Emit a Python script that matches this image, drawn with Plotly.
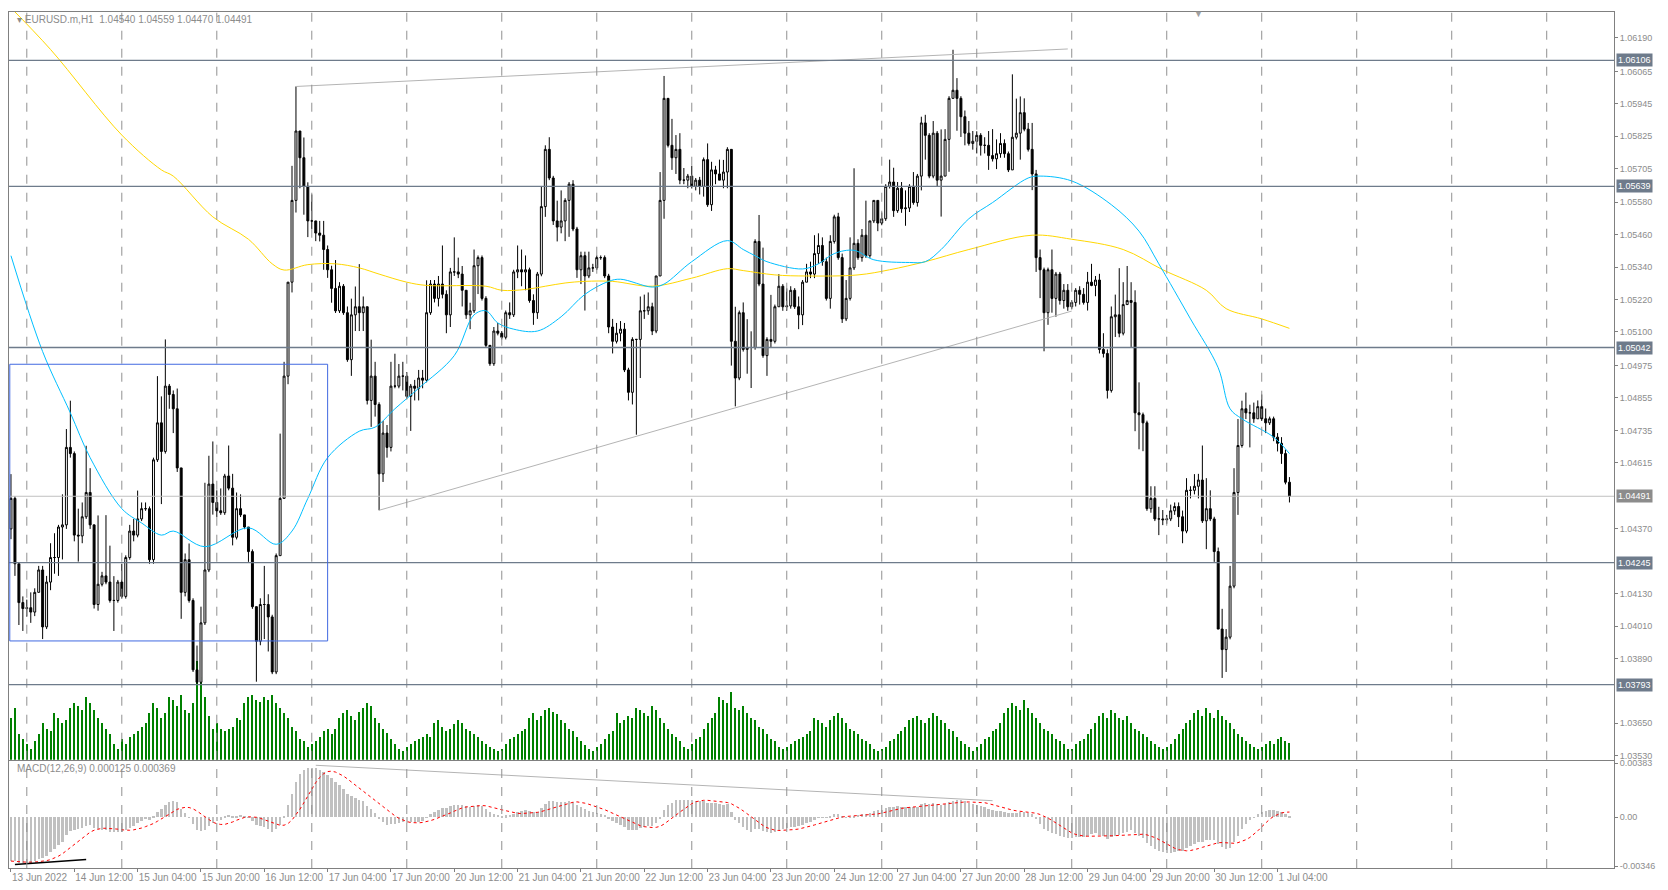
import pandas as pd
import numpy as np
from plotly import graph_objects as go

# EURUSD.m H1, 13 Jun 2022 20:00 .. 1 Jul 2022 07:00
first_open = 1.04370
close = [
    1.04483, 1.04241, 1.04097, 1.04075, 1.04078, 1.04062, 1.04135, 1.04218, 1.04007, 1.04173,
    1.04264, 1.04264, 1.04377, 1.04385, 1.04672, 1.04649, 1.04347, 1.04344, 1.04415, 1.04505,
    1.04385, 1.04090, 1.04165, 1.04196, 1.04173, 1.04105, 1.04105, 1.04173, 1.04120, 1.04264,
    1.04362, 1.04347, 1.04407, 1.04445, 1.04445, 1.04256, 1.04626, 1.04763, 1.04657, 1.04899,
    1.04868, 1.04815, 1.04596, 1.04135, 1.04256, 1.04105, 1.03848, 1.03802, 1.04022, 1.04218,
    1.04536, 1.04468, 1.04437, 1.04430, 1.04566, 1.04521, 1.04339, 1.04445, 1.04422, 1.04377,
    1.04286, 1.04082, 1.03954, 1.04090, 1.04090, 1.04044, 1.03840, 1.04271, 1.04483, 1.04936,
    1.05284, 1.05587, 1.05844, 1.05745, 1.05639, 1.05511, 1.05511, 1.05466, 1.05458, 1.05405,
    1.05330, 1.05261, 1.05178, 1.05269, 1.05171, 1.04997, 1.05163, 1.05193, 1.05171, 1.05193,
    1.04846, 1.04936, 1.04831, 1.04574, 1.04725, 1.04672, 1.04899, 1.04899, 1.04936, 1.04936,
    1.04861, 1.04899, 1.04891, 1.04929, 1.04921, 1.05171, 1.05277, 1.05224, 1.05277, 1.05239,
    1.05163, 1.05322, 1.05322, 1.05314, 1.05254, 1.05163, 1.05178, 1.05345, 1.05375, 1.05224,
    1.05050, 1.04982, 1.05103, 1.05095, 1.05080, 1.05171, 1.05163, 1.05322, 1.05330, 1.05322,
    1.05330, 1.05216, 1.05171, 1.05314, 1.05564, 1.05776, 1.05670, 1.05511, 1.05488, 1.05511,
    1.05587, 1.05647, 1.05481, 1.05330, 1.05382, 1.05307, 1.05337, 1.05337, 1.05375, 1.05375,
    1.05307, 1.05118, 1.05065, 1.05095, 1.05110, 1.04959, 1.04876, 1.05072, 1.05072, 1.05178,
    1.05178, 1.05193, 1.05103, 1.05307, 1.05587, 1.05965, 1.05791, 1.05745, 1.05776, 1.05662,
    1.05662, 1.05677, 1.05639, 1.05662, 1.05639, 1.05738, 1.05571, 1.05700, 1.05685, 1.05662,
    1.05692, 1.05776, 1.05065, 1.04929, 1.05171, 1.05035, 1.05042, 1.05042, 1.05435, 1.05277,
    1.05012, 1.05072, 1.05065, 1.05193, 1.05269, 1.05193, 1.05196, 1.05254, 1.05193, 1.05163,
    1.05284, 1.05322, 1.05314, 1.05390, 1.05420, 1.05360, 1.05224, 1.05435, 1.05526, 1.05375,
    1.05148, 1.05224, 1.05337, 1.05428, 1.05375, 1.05458, 1.05382, 1.05511, 1.05587, 1.05503,
    1.05519, 1.05639, 1.05655, 1.05549, 1.05632, 1.05556, 1.05559, 1.05639, 1.05579, 1.05677,
    1.05874, 1.05828, 1.05677, 1.05836, 1.05662, 1.05677, 1.05813, 1.05965, 1.05995, 1.05965,
    1.05897, 1.05836, 1.05798, 1.05806, 1.05828, 1.05791, 1.05791, 1.05753, 1.05741, 1.05760,
    1.05798, 1.05760, 1.05700, 1.05821, 1.05836, 1.05912, 1.05851, 1.05776, 1.05685, 1.05375,
    1.05330, 1.05171, 1.05330, 1.05224, 1.05314, 1.05216, 1.05254, 1.05193, 1.05209, 1.05254,
    1.05239, 1.05209, 1.05284, 1.05272, 1.05292, 1.05035, 1.05020, 1.04883, 1.05156, 1.05163,
    1.05095, 1.05201, 1.05216, 1.05209, 1.04800, 1.04793, 1.04763, 1.04445, 1.04483, 1.04407,
    1.04407, 1.04404, 1.04407, 1.04437, 1.04453, 1.04415, 1.04362, 1.04513, 1.04513, 1.04528,
    1.04551, 1.04400, 1.04445, 1.04407, 1.04286, 1.03999, 1.03923, 1.03969, 1.04158, 1.04505,
    1.04679, 1.04815, 1.04800, 1.04800, 1.04778, 1.04823, 1.04778, 1.04763, 1.04778, 1.04710,
    1.04687, 1.04649, 1.04543, 1.04491,
]
# upper / lower shadow lengths in points (0.00001)
wick_up = [
    90, 8, 0, 23, 30, 57, 15, 15, 15, 23, 53, 90, 8, 113, 68, 173, 8, 98, 53, 173,
    90, 0, 255, 15, 225, 135, 90, 8, 68, 8, 23, 45, 105, 23, 23, 8, 8, 173, 98, 173,
    8, 15, 75, 0, 23, 60, 8, 90, 60, 323, 105, 158, 45, 83, 8, 113, 53, 60, 53, 0,
    0, 8, 0, 23, 143, 38, 8, 8, 240, 53, 0, 128, 165, 0, 75, 15, 98, 0, 45, 53,
    15, 15, 105, 15, 8, 23, 60, 75, 158, 38, 0, 135, 53, 8, 45, 30, 90, 120, 45, 53,
    15, 8, 23, 30, 30, 120, 15, 15, 30, 143, 15, 15, 128, 53, 30, 0, 30, 60, 8, 8,
    8, 0, 15, 30, 8, 8, 38, 8, 90, 75, 53, 8, 23, 8, 75, 15, 45, 8, 75, 113,
    8, 8, 15, 8, 15, 15, 60, 15, 8, 8, 8, 8, 30, 38, 30, 23, 8, 8, 0, 53,
    60, 53, 15, 0, 105, 83, 0, 98, 53, 60, 45, 8, 38, 8, 12, 8, 60, 30, 15, 53,
    45, 8, 0, 128, 8, 38, 105, 60, 8, 98, 135, 8, 165, 8, 45, 8, 65, 15, 8, 38,
    8, 30, 38, 68, 45, 30, 15, 23, 8, 15, 15, 68, 113, 278, 15, 23, 128, 0, 0, 0,
    23, 8, 83, 53, 23, 23, 65, 8, 53, 8, 23, 30, 8, 45, 8, 173, 38, 8, 150, 45,
    8, 23, 45, 38, 15, 8, 30, 53, 98, 53, 38, 15, 8, 233, 128, 60, 53, 23, 98, 15,
    30, 8, 8, 75, 8, 8, 23, 23, 8, 8, 15, 23, 38, 68, 15, 23, 60, 15, 38, 75,
    173, 83, 128, 68, 45, 113, 8, 8, 45, 45, 45, 33, 15, 23, 15, 15, 23, 45, 15, 45,
    23, 128, 113, 68, 8, 15, 75, 30, 75, 90, 98, 30, 60, 30, 38, 23, 45, 38, 8, 8,
    15, 23, 15, 19,
]
wick_dn = [
    38, 45, 83, 83, 30, 40, 15, 0, 45, 8, 30, 60, 68, 120, 15, 15, 23, 95, 27, 8,
    15, 15, 23, 8, 8, 8, 113, 8, 8, 8, 8, 23, 8, 8, 8, 15, 15, 8, 195, 8,
    53, 90, 15, 98, 15, 8, 8, 8, 8, 8, 8, 45, 23, 8, 8, 8, 30, 8, 8, 8,
    38, 8, 150, 15, 128, 128, 8, 8, 0, 0, 30, 38, 45, 113, 105, 60, 30, 30, 23, 75,
    30, 53, 8, 8, 8, 8, 60, 60, 68, 68, 15, 98, 45, 135, 30, 38, 15, 8, 8, 53,
    8, 128, 45, 45, 30, 8, 8, 15, 30, 15, 68, 45, 15, 15, 60, 15, 53, 8, 105, 8,
    8, 8, 8, 8, 8, 8, 15, 8, 23, 53, 68, 8, 45, 23, 8, 38, 8, 15, 53, 23,
    75, 135, 8, 30, 53, 128, 8, 15, 8, 8, 8, 23, 45, 8, 30, 8, 30, 45, 353, 143,
    30, 15, 15, 8, 0, 68, 8, 45, 60, 15, 15, 30, 8, 15, 30, 38, 8, 23, 38, 0,
    30, 60, 90, 105, 8, 8, 90, 150, 8, 8, 8, 75, 23, 8, 0, 15, 15, 10, 8, 53,
    38, 0, 15, 15, 38, 15, 8, 38, 8, 8, 15, 8, 8, 8, 8, 15, 8, 8, 8, 30,
    8, 8, 8, 23, 8, 15, 63, 15, 8, 15, 53, 90, 8, 8, 23, 135, 0, 120, 0, 120,
    75, 45, 8, 23, 45, 38, 30, 53, 10, 38, 15, 15, 8, 0, 8, 98, 8, 8, 60, 53,
    105, 143, 45, 53, 68, 15, 30, 15, 8, 15, 38, 8, 30, 3, 40, 15, 15, 30, 8, 75,
    15, 8, 0, 165, 68, 128, 105, 8, 15, 8, 60, 20, 15, 8, 15, 38, 45, 8, 30, 15,
    45, 8, 105, 8, 38, 0, 105, 83, 8, 8, 83, 8, 23, 128, 15, 0, 8, 38, 8, 15,
    30, 38, 8, 23,
]
# tick volume per bar
volume = [
    40, 50, 25, 20,
    15, 10, 18, 25, 35, 30, 28, 45, 40, 35, 38, 50, 55, 52, 48, 60, 55, 48, 40, 35, 30, 25, 15, 10,
    20, 15, 22, 25, 28, 32, 35, 45, 55, 50, 40, 45, 60, 58, 52, 62, 48, 45, 55, 95, 80, 60, 42, 30,
    35, 30, 28, 30, 32, 40, 38, 55, 60, 62, 58, 56, 60, 58, 62, 55, 50, 45, 40, 32, 28, 20, 18, 12,
    15, 18, 22, 28, 30, 25, 30, 40, 45, 48, 42, 38, 46, 50, 55, 52, 40, 35, 30, 26, 20, 15, 10, 8,
    12, 15, 18, 20, 22, 25, 22, 35, 38, 32, 28, 30, 34, 38, 35, 30, 28, 25, 22, 18, 15, 12, 10, 8,
    10, 15, 20, 22, 25, 28, 30, 40, 45, 38, 42, 48, 50, 46, 44, 38, 35, 30, 28, 22, 18, 14, 10, 8,
    12, 15, 20, 25, 28, 45, 35, 38, 42, 40, 50, 48, 45, 42, 52, 48, 40, 35, 30, 25, 22, 18, 12, 10,
    15, 20, 22, 30, 35, 40, 45, 60, 58, 55, 65, 50, 48, 52, 45, 40, 38, 32, 30, 25, 20, 18, 12, 10,
    12, 15, 18, 20, 22, 25, 28, 40, 38, 35, 32, 38, 42, 45, 40, 35, 30, 28, 25, 20, 18, 15, 10, 8,
    10, 12, 18, 20, 25, 28, 32, 38, 40, 42, 38, 35, 40, 45, 42, 38, 35, 30, 28, 22, 18, 15, 12, 8,
    12, 15, 20, 22, 28, 30, 35, 45, 50, 55, 52, 48, 58, 50, 45, 40, 35, 30, 28, 25, 20, 18, 15, 10,
    10, 15, 18, 20, 25, 30, 35, 42, 45, 40, 48, 45, 40, 38, 42, 35, 30, 28, 25, 22, 18, 15, 12, 10,
    12, 15, 20, 25, 30, 35, 38, 45, 48, 42, 50, 45, 40, 48, 42, 38, 35, 30, 25, 22, 18, 15, 12, 10,
    12, 15, 18, 15, 20, 22, 18, 16,
]
# moving averages read at sample bars
ma_slow_bar = [0, 10, 28, 38, 41, 51, 60, 66, 69, 75, 82, 88, 93, 100, 105, 120, 124, 130, 135, 140,
               145, 152, 162, 172, 181, 185, 193, 201, 214, 222, 231, 242, 258, 268, 281, 291, 302,
               307, 316, 323]
ma_slow = [1.06300, 1.06146, 1.05829, 1.05700, 1.05677, 1.05526, 1.05443, 1.05352, 1.05329, 1.05349,
           1.05352, 1.05337, 1.05314, 1.05284, 1.05272, 1.05269, 1.05254, 1.05257, 1.05269, 1.05281,
           1.05287, 1.05287, 1.05269, 1.05299, 1.05334, 1.05327, 1.05311, 1.05307, 1.05311, 1.05330,
           1.05360, 1.05405, 1.05458, 1.05443, 1.05405, 1.05330, 1.05254, 1.05186, 1.05148, 1.05113]
ma_fast_bar = [0, 8, 15, 20, 28, 33, 38, 41, 49, 60, 67, 71, 75, 80, 88, 92, 97, 103, 112, 117, 120,
               123, 127, 133, 139, 145, 151, 154, 162, 165, 172, 181, 185, 188, 191, 200, 204, 208,
               213, 218, 227, 231, 235, 242, 248, 257, 260, 268, 278, 285, 290, 298, 305, 308, 311,
               319, 323]
ma_fast = [1.05382, 1.05027, 1.04800, 1.04634, 1.04445, 1.04392, 1.04347, 1.04362, 1.04304, 1.04374,
           1.04313, 1.04362, 1.04483, 1.04634, 1.04732, 1.04747, 1.04815, 1.04891, 1.05012, 1.05163,
           1.05178, 1.05133, 1.05110, 1.05103, 1.05156, 1.05239, 1.05287, 1.05295, 1.05266, 1.05277,
           1.05360, 1.05438, 1.05405, 1.05382, 1.05360, 1.05333, 1.05352, 1.05390, 1.05402, 1.05367,
           1.05357, 1.05360, 1.05405, 1.05519, 1.05579, 1.05670, 1.05677, 1.05659, 1.05571, 1.05473,
           1.05352, 1.05148, 1.04967, 1.04815, 1.04778, 1.04710, 1.04649]
levels = [1.06106, 1.05639, 1.05042, 1.04245, 1.03793]
last_price = 1.04491
price_ticks = [1.06190, 1.06065, 1.05945, 1.05825, 1.05705, 1.05580, 1.05460, 1.05340, 1.05220,
               1.05100, 1.04975, 1.04855, 1.04735, 1.04615, 1.04370, 1.04130, 1.04010,
               1.03890, 1.03650, 1.03530]
# drawn objects: (bar, price)
upper_trend = [(72, 1.06009), (267, 1.06148)]
lower_trend = [(93, 1.04439), (268, 1.05177)]
box = [(-0.3, 1.04980), (80, 1.03955)]
macd_trend_black = [(1, -0.00335), (19, -0.00300)]
macd_trend_gray = [(77, 0.00368), (248, 0.00117)]
ema12_start, ema26_start = 1.04550, 1.04880

n = len(close)
times = pd.date_range("2022-06-13 20:00", periods=n * 2, freq="h")
times = times[times.weekday < 5][:n]
idx = np.arange(n)
opn = [first_open] + close[:-1]
high = [max(o, c) + u * 1e-5 for o, c, u in zip(opn, close, wick_up)]
low = [min(o, c) - d * 1e-5 for o, c, d in zip(opn, close, wick_dn)]

# MACD(12,26,9), signal = SMA of main line like MT4
e12, e26, main = ema12_start, ema26_start, []
for c in close:
    e12 += (c - e12) * 2 / 13
    e26 += (c - e26) * 2 / 27
    main.append(e12 - e26)
signal = pd.Series(main).rolling(9, min_periods=1).mean()

GRID = "#909090"
AX = "#808080"
LEVEL = "#6e7b8b"
FONT = "Liberation Sans"
TXT = "#8c8c8c"

fig = go.Figure()
fig.add_trace(go.Bar(x=idx, y=volume, marker_color="#008000", marker_line_width=0,
                     width=0.28, yaxis="y"))
fig.add_trace(go.Scatter(x=ma_slow_bar, y=ma_slow, mode="lines", line=dict(color="#ffd700", width=1),
                         yaxis="y3", line_shape="spline"))
fig.add_trace(go.Scatter(x=ma_fast_bar, y=ma_fast, mode="lines", line=dict(color="#00bfff", width=1),
                         yaxis="y3", line_shape="spline"))
for seg in (upper_trend, lower_trend):
    fig.add_trace(go.Scatter(x=[p[0] for p in seg], y=[p[1] for p in seg], mode="lines",
                             line=dict(color="#b4b4b4", width=1), yaxis="y3"))
fig.add_trace(go.Candlestick(
    x=idx, open=opn, high=high, low=low, close=close, yaxis="y3", whiskerwidth=0,
    increasing=dict(line=dict(color="black", width=1), fillcolor="white"),
    decreasing=dict(line=dict(color="black", width=1), fillcolor="black")))
fig.add_trace(go.Bar(x=idx, y=main, marker_color="#c0c0c0", marker_line_width=0, width=0.6,
                     xaxis="x2", yaxis="y2"))
fig.add_trace(go.Scatter(x=idx, y=signal, mode="lines", line=dict(color="red", width=1, dash="dot"),
                         xaxis="x2", yaxis="y2"))
fig.add_trace(go.Scatter(x=[p[0] for p in macd_trend_black], y=[p[1] for p in macd_trend_black],
                         mode="lines", line=dict(color="black", width=1.5), xaxis="x2", yaxis="y2"))
fig.add_trace(go.Scatter(x=[p[0] for p in macd_trend_gray], y=[p[1] for p in macd_trend_gray],
                         mode="lines", line=dict(color="#b4b4b4", width=1), xaxis="x2", yaxis="y2"))

xmax = 405
tick_i = list(range(0, n, 16))
tick_t = ["13 Jun 2022" if i == 0 else f"{times[i].day} {times[i]:%b %H:%M}" for i in tick_i]

shapes = []
for g in range(4, xmax, 24):
    for xr, yr in (("x", "y3"), ("x2", "y2")):
        shapes.append(dict(type="line", xref=xr, yref=yr + " domain", x0=g, x1=g, y0=0, y1=1,
                           line=dict(color=GRID, width=1, dash="dash")))
for lv in levels:
    shapes.append(dict(type="line", xref="x domain", yref="y3", x0=0, x1=1, y0=lv, y1=lv,
                       line=dict(color=LEVEL, width=1.3)))
shapes.append(dict(type="line", xref="x domain", yref="y3", x0=0, x1=1, y0=last_price, y1=last_price,
                   line=dict(color="#c0c0c0", width=1)))
shapes.append(dict(type="rect", xref="x", yref="y3", x0=box[0][0], x1=box[1][0], y0=box[0][1],
                   y1=box[1][1], line=dict(color="#4169e1", width=1)))

ann = []
for lv, bg in [(v, LEVEL) for v in levels] + [(last_price, "#8c8c8c")]:
    ann.append(dict(xref="paper", yref="y3", x=1.001, y=lv, text=f"{lv:.5f}", showarrow=False,
                    xanchor="left", bgcolor=bg, font=dict(color="white", size=9, family=FONT),
                    borderpad=1))
ann.append(dict(xref="paper", yref="paper", x=0.004, y=0.998, xanchor="left", yanchor="top",
                text="▾ EURUSD.m,H1  1.04540 1.04559 1.04470 1.04491", showarrow=False,
                font=dict(color=TXT, size=10, family=FONT)))
ann.append(dict(xref="paper", yref="paper", x=0.004, y=0.125, xanchor="left", yanchor="top",
                text="MACD(12,26,9) 0.000125 0.000369", showarrow=False,
                font=dict(color=TXT, size=10, family=FONT)))
ann.append(dict(xref="x", yref="paper", x=300, y=1.004, yanchor="top", text="▼", showarrow=False,
                font=dict(color="#a0a0a0", size=9)))

price_dom = [0.1262, 0.9977]
fig.update_layout(
    width=1652, height=880, showlegend=False, plot_bgcolor="white", paper_bgcolor="white",
    margin=dict(l=1, r=46, t=0, b=20), shapes=shapes, annotations=ann, bargap=0,
    font=dict(family=FONT, size=9, color=TXT),
    xaxis=dict(range=[-0.5, xmax], showgrid=False, showticklabels=False, zeroline=False,
               showline=True, mirror=True, linecolor=AX, rangeslider=dict(visible=False),
               anchor="y3"),
    xaxis2=dict(range=[-0.5, xmax], showgrid=False, zeroline=False, showline=True, mirror=True,
                linecolor=AX, anchor="y2", matches="x", tickvals=tick_i, ticktext=tick_t,
                ticks="outside", ticklen=3, tickcolor=AX, ticklabelposition="outside right",
                tickangle=0, tickfont=dict(size=10, color=TXT, family=FONT)),
    yaxis=dict(domain=price_dom, range=[0, 720], showgrid=False, showticklabels=False,
               zeroline=False, anchor="x"),
    yaxis3=dict(domain=price_dom, overlaying="y", range=[1.03515, 1.06285], side="right",
                anchor="x", showgrid=False, zeroline=False, showline=True, mirror=True,
                linecolor=AX, tickvals=price_ticks, tickformat=".5f", ticks="outside",
                ticklen=3, tickcolor=AX, tickfont=dict(size=9, color=TXT, family=FONT)),
    yaxis2=dict(domain=[0, 0.125], range=[-0.0036, 0.0040], side="right", anchor="x2",
                showgrid=False, zeroline=False, showline=True, mirror=True, linecolor=AX,
                tickvals=[0.00383, 0, -0.00346], ticktext=["0.00383", "0.00", "-0.00346"],
                ticks="outside", ticklen=3, tickcolor=AX, tickfont=dict(size=9, color=TXT, family=FONT)),
)
fig.write_html("out.html")
